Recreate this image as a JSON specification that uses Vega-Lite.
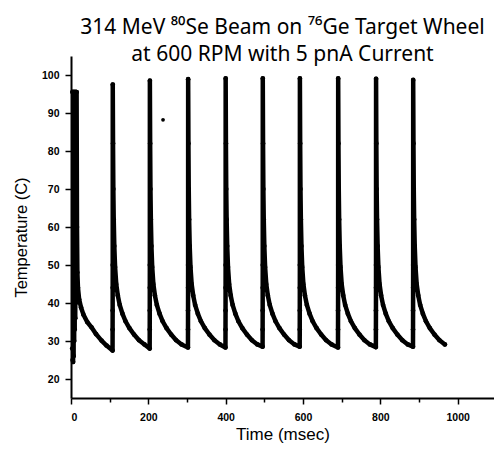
{
  "$schema": "https://vega.github.io/schema/vega-lite/v6.json",
  "autosize": {"type": "none"},
  "padding": {"left": 71, "top": 56, "right": 0, "bottom": 52},
  "width": 423,
  "height": 342,
  "background": "white",
  "title": {
    "text": ["314 MeV ⁸⁰Se Beam on ⁷⁶Ge Target Wheel", "at 600 RPM with 5 pnA Current"],
    "font": "Noto Sans",
    "fontSize": 21,
    "fontWeight": "normal",
    "color": "black",
    "anchor": "middle",
    "lineHeight": 27,
    "offset": -9
  },
  "config": {
    "view": {"stroke": null},
    "axis": {
      "grid": false,
      "domainColor": "black",
      "domainWidth": 2,
      "tickColor": "black",
      "tickWidth": 1.5,
      "labelFont": "Liberation Sans",
      "labelFontSize": 10.5,
      "labelFontWeight": "bold",
      "labelColor": "black",
      "titleFont": "Liberation Sans",
      "titleFontSize": 16.5,
      "titleFontWeight": "normal",
      "titleColor": "black"
    }
  },
  "datasets": {
    "curve": [
      {"t": 3, "T": 28}, {"t": 3.5, "T": 95.5}, {"t": 4, "T": 25}, {"t": 4.7, "T": 95.5}, {"t": 5.4, "T": 24.5},
      {"t": 6.1, "T": 95.5}, {"t": 6.8, "T": 26}, {"t": 7.5, "T": 95.5}, {"t": 8.2, "T": 30}, {"t": 8.9, "T": 95.5},
      {"t": 9.6, "T": 33}, {"t": 10.3, "T": 95.5}, {"t": 11, "T": 36}, {"t": 11.7, "T": 95.5}, {"t": 12.4, "T": 40},
      {"t": 13.1, "T": 95.5}, {"t": 13.8, "T": 45}, {"t": 14.5, "T": 95.5}, {"t": 15.5, "T": 60}, {"t": 16.5, "T": 48},
      {"t": 18, "T": 44}, {"t": 21, "T": 41}, {"t": 26, "T": 38.8}, {"t": 32, "T": 37}, {"t": 42, "T": 35},
      {"t": 53, "T": 33.6}, {"t": 65, "T": 31.8}, {"t": 79, "T": 30.1}, {"t": 92, "T": 28.8}, {"t": 107.5, "T": 27.5},

      {"t": 107.6, "T": 33}, {"t": 107.7, "T": 38}, {"t": 107.8, "T": 44}, {"t": 107.9, "T": 50}, {"t": 108, "T": 97.5},
      {"t": 108.7, "T": 82}, {"t": 109.5, "T": 70}, {"t": 110.5, "T": 62}, {"t": 112, "T": 55}, {"t": 114, "T": 49.5},
      {"t": 117, "T": 45}, {"t": 121, "T": 42}, {"t": 126, "T": 39.5}, {"t": 133, "T": 37.2}, {"t": 141, "T": 35.2},
      {"t": 151, "T": 33.4}, {"t": 163, "T": 31.7}, {"t": 176, "T": 30.2}, {"t": 190, "T": 29.1}, {"t": 203.5, "T": 28.0},

      {"t": 203.6, "T": 33}, {"t": 203.7, "T": 38}, {"t": 203.8, "T": 44}, {"t": 203.9, "T": 50}, {"t": 204, "T": 98.5},
      {"t": 204.7, "T": 82}, {"t": 205.5, "T": 70}, {"t": 206.5, "T": 62}, {"t": 208, "T": 55}, {"t": 210, "T": 49.5},
      {"t": 213, "T": 45}, {"t": 217, "T": 42}, {"t": 222, "T": 39.5}, {"t": 229, "T": 37.2}, {"t": 237, "T": 35.2},
      {"t": 247, "T": 33.4}, {"t": 259, "T": 31.7}, {"t": 272, "T": 30.2}, {"t": 286, "T": 29.1}, {"t": 302.5, "T": 28.3},

      {"t": 302.6, "T": 33}, {"t": 302.7, "T": 38}, {"t": 302.8, "T": 44}, {"t": 302.9, "T": 50}, {"t": 303, "T": 98.9},
      {"t": 303.7, "T": 82}, {"t": 304.5, "T": 70}, {"t": 305.5, "T": 62}, {"t": 307, "T": 55}, {"t": 309, "T": 49.5},
      {"t": 312, "T": 45}, {"t": 316, "T": 42}, {"t": 321, "T": 39.5}, {"t": 328, "T": 37.2}, {"t": 336, "T": 35.2},
      {"t": 346, "T": 33.4}, {"t": 358, "T": 31.7}, {"t": 371, "T": 30.2}, {"t": 385, "T": 29.1}, {"t": 399.5, "T": 28.3},

      {"t": 399.6, "T": 33}, {"t": 399.7, "T": 38}, {"t": 399.8, "T": 44}, {"t": 399.9, "T": 50}, {"t": 400, "T": 99.1},
      {"t": 400.7, "T": 82}, {"t": 401.5, "T": 70}, {"t": 402.5, "T": 62}, {"t": 404, "T": 55}, {"t": 406, "T": 49.5},
      {"t": 409, "T": 45}, {"t": 413, "T": 42}, {"t": 418, "T": 39.5}, {"t": 425, "T": 37.2}, {"t": 433, "T": 35.2},
      {"t": 443, "T": 33.4}, {"t": 455, "T": 31.7}, {"t": 468, "T": 30.2}, {"t": 482, "T": 29.1}, {"t": 495.5, "T": 28.5},

      {"t": 495.6, "T": 33}, {"t": 495.7, "T": 38}, {"t": 495.8, "T": 44}, {"t": 495.9, "T": 50}, {"t": 496, "T": 99.1},
      {"t": 496.7, "T": 82}, {"t": 497.5, "T": 70}, {"t": 498.5, "T": 62}, {"t": 500, "T": 55}, {"t": 502, "T": 49.5},
      {"t": 505, "T": 45}, {"t": 509, "T": 42}, {"t": 514, "T": 39.5}, {"t": 521, "T": 37.2}, {"t": 529, "T": 35.2},
      {"t": 539, "T": 33.4}, {"t": 551, "T": 31.7}, {"t": 564, "T": 30.2}, {"t": 578, "T": 29.1}, {"t": 591.5, "T": 28.5},

      {"t": 591.6, "T": 33}, {"t": 591.7, "T": 38}, {"t": 591.8, "T": 44}, {"t": 591.9, "T": 50}, {"t": 592, "T": 99.1},
      {"t": 592.7, "T": 82}, {"t": 593.5, "T": 70}, {"t": 594.5, "T": 62}, {"t": 596, "T": 55}, {"t": 598, "T": 49.5},
      {"t": 601, "T": 45}, {"t": 605, "T": 42}, {"t": 610, "T": 39.5}, {"t": 617, "T": 37.2}, {"t": 625, "T": 35.2},
      {"t": 635, "T": 33.4}, {"t": 647, "T": 31.7}, {"t": 660, "T": 30.2}, {"t": 674, "T": 29.1}, {"t": 690.5, "T": 28.3},

      {"t": 690.6, "T": 33}, {"t": 690.7, "T": 38}, {"t": 690.8, "T": 44}, {"t": 690.9, "T": 50}, {"t": 691, "T": 99.1},
      {"t": 691.7, "T": 82}, {"t": 692.5, "T": 70}, {"t": 693.5, "T": 62}, {"t": 695, "T": 55}, {"t": 697, "T": 49.5},
      {"t": 700, "T": 45}, {"t": 704, "T": 42}, {"t": 709, "T": 39.5}, {"t": 716, "T": 37.2}, {"t": 724, "T": 35.2},
      {"t": 734, "T": 33.4}, {"t": 746, "T": 31.7}, {"t": 759, "T": 30.2}, {"t": 773, "T": 29.1}, {"t": 788.5, "T": 28.4},

      {"t": 788.6, "T": 33}, {"t": 788.7, "T": 38}, {"t": 788.8, "T": 44}, {"t": 788.9, "T": 50}, {"t": 789, "T": 99.0},
      {"t": 789.7, "T": 82}, {"t": 790.5, "T": 70}, {"t": 791.5, "T": 62}, {"t": 793, "T": 55}, {"t": 795, "T": 49.5},
      {"t": 798, "T": 45}, {"t": 802, "T": 42}, {"t": 807, "T": 39.5}, {"t": 814, "T": 37.2}, {"t": 822, "T": 35.2},
      {"t": 832, "T": 33.4}, {"t": 844, "T": 31.7}, {"t": 857, "T": 30.2}, {"t": 871, "T": 29.1}, {"t": 884.5, "T": 28.5},

      {"t": 884.6, "T": 33}, {"t": 884.7, "T": 38}, {"t": 884.8, "T": 44}, {"t": 884.9, "T": 50}, {"t": 885, "T": 98.7},
      {"t": 885.7, "T": 82}, {"t": 886.5, "T": 70}, {"t": 887.5, "T": 62}, {"t": 889, "T": 55}, {"t": 891, "T": 49.5},
      {"t": 894, "T": 45}, {"t": 898, "T": 42}, {"t": 903, "T": 39.5}, {"t": 910, "T": 37.2}, {"t": 918, "T": 35.2},
      {"t": 928, "T": 33.4}, {"t": 940, "T": 31.7}, {"t": 953, "T": 30.2}, {"t": 967, "T": 29.1}
    ],
    "speck": [{"t": 238, "T": 88.2}]
  },
  "layer": [
    {
      "data": {"name": "curve"},
      "mark": {"type": "line", "color": "black", "strokeWidth": 4.5, "strokeCap": "round", "strokeJoin": "round", "clip": true},
      "encoding": {
        "x": {
          "field": "t", "type": "quantitative",
          "scale": {"domain": [0, 1094], "nice": false, "zero": false},
          "axis": {
            "title": "Time (msec)",
            "values": [0, 100, 200, 300, 400, 500, 600, 700, 800, 900, 1000],
            "labelExpr": "datum.value % 200 === 0 ? datum.label : ''",
            "format": "d",
            "tickSize": {"condition": {"test": "datum.value % 200 === 0", "value": 6}, "value": 4},
            "labelPadding": 8,
            "titlePadding": 4,
            "titleFontSize": 17
          }
        },
        "y": {
          "field": "T", "type": "quantitative",
          "scale": {"domain": [15, 105], "nice": false, "zero": false},
          "axis": {
            "title": "Temperature (C)",
            "values": [20, 25, 30, 35, 40, 45, 50, 55, 60, 65, 70, 75, 80, 85, 90, 95, 100],
            "labelExpr": "datum.value % 10 === 0 ? datum.label : ''",
            "tickSize": {"condition": {"test": "datum.value % 10 === 0", "value": 6}, "value": 4},
            "labelPadding": 6,
            "titlePadding": 12,
            "titleY": 181
          }
        }
      }
    },
    {
      "data": {"name": "curve"},
      "mark": {"type": "point", "filled": true, "color": "black", "size": 22, "opacity": 1},
      "encoding": {
        "x": {"field": "t", "type": "quantitative"},
        "y": {"field": "T", "type": "quantitative"}
      }
    },
    {
      "data": {"name": "speck"},
      "mark": {"type": "point", "filled": true, "color": "black", "size": 14, "opacity": 1},
      "encoding": {
        "x": {"field": "t", "type": "quantitative"},
        "y": {"field": "T", "type": "quantitative"}
      }
    }
  ]
}
